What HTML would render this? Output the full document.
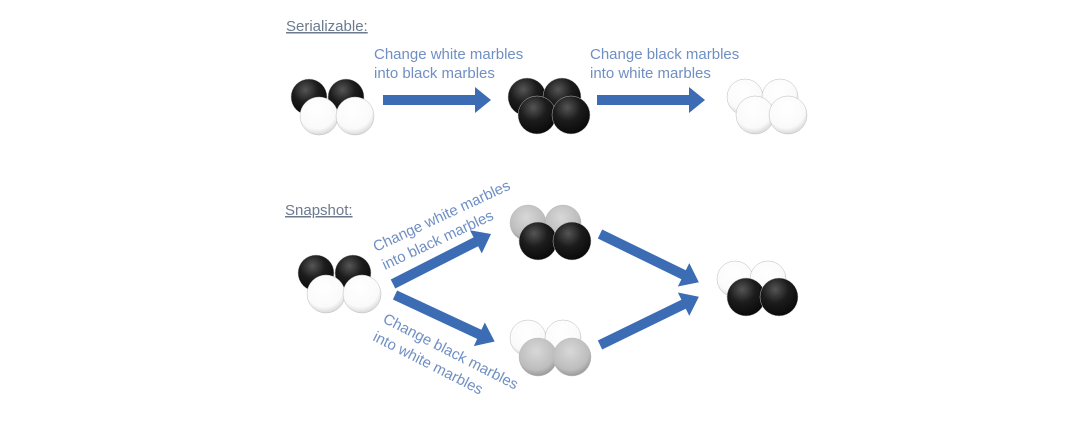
<!DOCTYPE html>
<html><head><meta charset="utf-8"><style>
html,body{margin:0;padding:0;background:#fff;}
svg{display:block;}
text{font-family:"Liberation Sans",sans-serif;}
</style></head><body>
<svg width="1080" height="444" viewBox="0 0 1080 444" xmlns="http://www.w3.org/2000/svg">
<defs>
<radialGradient id="gb" cx="0.4" cy="0.3" r="0.7"><stop offset="0" stop-color="#555"/><stop offset="0.5" stop-color="#1c1c1c"/><stop offset="1" stop-color="#0a0a0a"/></radialGradient>
<radialGradient id="gw" cx="0.45" cy="0.35" r="0.7"><stop offset="0" stop-color="#fff"/><stop offset="0.7" stop-color="#fafafa"/><stop offset="1" stop-color="#cfcfcf"/></radialGradient>
<radialGradient id="gg" cx="0.45" cy="0.35" r="0.7"><stop offset="0" stop-color="#d8d8d8"/><stop offset="0.7" stop-color="#bdbdbd"/><stop offset="1" stop-color="#8e8e8e"/></radialGradient>
</defs>
<rect width="1080" height="444" fill="#fff"/>
<text x="286" y="31" font-size="15" fill="#6b7a8f" text-decoration="underline">Serializable:</text>
<text x="285" y="215" font-size="15" fill="#6b7a8f" text-decoration="underline">Snapshot:</text>

<g font-size="15" fill="#6f8fc4">
<text x="374" y="59">Change white marbles</text>
<text x="374" y="78">into black marbles</text>
<text x="590" y="59">Change black marbles</text>
<text x="590" y="78">into white marbles</text>
<text transform="translate(376,252) rotate(-25)">Change white marbles</text>
<text transform="translate(385,270) rotate(-25)">into black marbles</text>
<text transform="translate(382,322) rotate(27)">Change black marbles</text>
<text transform="translate(372,340) rotate(27)">into white marbles</text>
</g>

<g fill="#3b6cb4">
<path d="M383,95 L475,95 L475,87 L491,100 L475,113 L475,105 L383,105 Z"/>
<path d="M597,95 L689,95 L689,87 L705,100 L689,113 L689,105 L597,105 Z"/>
<g transform="translate(393,284) rotate(-27)"><path d="M0,-5 L93,-5 L93,-13 L110,0 L93,13 L93,5 L0,5 Z"/></g>
<g transform="translate(395,295) rotate(25)"><path d="M0,-5 L93,-5 L93,-13 L110,0 L93,13 L93,5 L0,5 Z"/></g>
<g transform="translate(600,234) rotate(26)"><path d="M0,-5 L93,-5 L93,-13 L110,0 L93,13 L93,5 L0,5 Z"/></g>
<g transform="translate(600,345) rotate(-26)"><path d="M0,-5 L93,-5 L93,-13 L110,0 L93,13 L93,5 L0,5 Z"/></g>
</g>

<g stroke="#bbb" stroke-width="0.5">
<circle cx="309" cy="97" r="18" fill="url(#gb)"/><circle cx="346" cy="97" r="18" fill="url(#gb)"/>
<circle cx="319" cy="116" r="19" fill="url(#gw)"/><circle cx="355" cy="116" r="19" fill="url(#gw)"/>

<circle cx="527" cy="97" r="19" fill="url(#gb)"/><circle cx="562" cy="97" r="19" fill="url(#gb)"/>
<circle cx="537" cy="115" r="19" fill="url(#gb)"/><circle cx="571" cy="115" r="19" fill="url(#gb)"/>

<circle cx="745" cy="97" r="18" fill="url(#gw)"/><circle cx="780" cy="97" r="18" fill="url(#gw)"/>
<circle cx="755" cy="115" r="19" fill="url(#gw)"/><circle cx="788" cy="115" r="19" fill="url(#gw)"/>

<circle cx="316" cy="273" r="18" fill="url(#gb)"/><circle cx="353" cy="273" r="18" fill="url(#gb)"/>
<circle cx="326" cy="294" r="19" fill="url(#gw)"/><circle cx="362" cy="294" r="19" fill="url(#gw)"/>

<circle cx="528" cy="223" r="18" fill="url(#gg)"/><circle cx="563" cy="223" r="18" fill="url(#gg)"/>
<circle cx="538" cy="241" r="19" fill="url(#gb)"/><circle cx="572" cy="241" r="19" fill="url(#gb)"/>

<circle cx="528" cy="338" r="18" fill="url(#gw)"/><circle cx="563" cy="338" r="18" fill="url(#gw)"/>
<circle cx="538" cy="357" r="19" fill="url(#gg)"/><circle cx="572" cy="357" r="19" fill="url(#gg)"/>

<circle cx="735" cy="279" r="18" fill="url(#gw)"/><circle cx="768" cy="279" r="18" fill="url(#gw)"/>
<circle cx="746" cy="297" r="19" fill="url(#gb)"/><circle cx="779" cy="297" r="19" fill="url(#gb)"/>
</g>
</svg>
</body></html>
